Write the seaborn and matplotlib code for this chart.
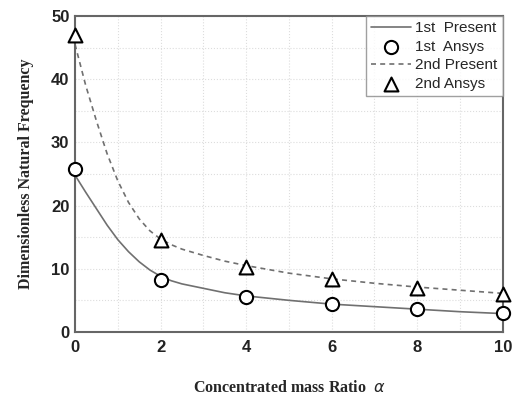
import numpy as np
import pandas as pd
import seaborn as sns
import matplotlib.pyplot as plt
from matplotlib.ticker import MultipleLocator

# curves
alpha_curve = [0, 0.25, 0.5, 0.75, 1, 1.25, 1.5, 1.75, 2, 2.25, 2.5, 3, 3.5, 4, 5, 6, 7, 8, 9, 10]
first_present = [24.8, 22.1, 19.5, 16.9, 14.6, 12.7, 11.1, 9.8, 8.8, 8.1, 7.6, 6.9, 6.2, 5.7, 5.0, 4.4, 4.0, 3.6, 3.2, 2.9]
second_present = [45.5, 39.0, 33.4, 28.2, 23.9, 20.5, 17.9, 16.0, 14.7, 13.8, 13.1, 12.1, 11.2, 10.5, 9.3, 8.4, 7.7, 7.1, 6.6, 6.1]

# ansys points
alpha_pts = [0, 2, 4, 6, 8, 10]
first_ansys = [25.8, 8.2, 5.6, 4.4, 3.6, 3.0]
second_ansys = [47.0, 14.6, 10.3, 8.4, 7.0, 6.0]

sns.set_style('white')

fig = plt.figure(figsize=(5.21, 3.98), dpi=100)
ax = fig.add_axes([0.144, 0.166, 0.821, 0.794])

c = pd.DataFrame({'a': alpha_curve, 'f1': first_present, 'f2': second_present})
p = pd.DataFrame({'a': alpha_pts, 'f1': first_ansys, 'f2': second_ansys})

sns.lineplot(data=c, x='a', y='f1', ax=ax, color='#707070', lw=1.2, label='1st  Present')
sns.scatterplot(data=p, x='a', y='f1', ax=ax, marker='o', s=90, facecolor='white',
                edgecolor='black', linewidth=1.5, label='1st  Ansys', zorder=5, clip_on=False)
sns.lineplot(data=c, x='a', y='f2', ax=ax, color='#707070', lw=1.2, linestyle=(0, (3, 2.5)),
             label='2nd Present')
sns.scatterplot(data=p, x='a', y='f2', ax=ax, marker='^', s=100, facecolor='white',
                edgecolor='black', linewidth=1.5, label='2nd Ansys', zorder=5, clip_on=False)

ax.set_xlim(0, 10)
ax.set_ylim(0, 50)
ax.xaxis.set_major_locator(MultipleLocator(2))
ax.xaxis.set_minor_locator(MultipleLocator(1))
ax.yaxis.set_major_locator(MultipleLocator(10))
ax.yaxis.set_minor_locator(MultipleLocator(5))
ax.grid(True, which='both', color='#dddddd', linestyle=':', lw=0.8)
ax.tick_params(which='both', direction='in', color='#555555')
ax.tick_params(which='major', length=5, width=1.2)
ax.tick_params(which='minor', length=3, width=1.0)
for lab in ax.get_xticklabels() + ax.get_yticklabels():
    lab.set_fontfamily('Liberation Sans')
    lab.set_fontweight('bold')
    lab.set_fontsize(12)
    lab.set_color('#222222')
ax.tick_params(axis='x', pad=6)
ax.tick_params(axis='y', pad=4)
for s in ax.spines.values():
    s.set_color('#666666')
    s.set_linewidth(1.5)

ax.set_xlabel(r'Concentrated mass Ratio  $\alpha$', fontfamily='Liberation Serif',
              fontweight='bold', fontsize=11.5, labelpad=18)
ax.set_ylabel('Dimensionless Natural Frequency', fontfamily='Liberation Serif',
              fontweight='bold', fontsize=11.5, labelpad=12)

leg = ax.legend(loc='upper right', prop={'family': 'Liberation Sans', 'size': 11},
                frameon=True, fancybox=False, borderaxespad=0, handlelength=2.6,
                handletextpad=0.3, labelspacing=0.3, borderpad=0.35)
leg.get_frame().set_edgecolor('#888888')
leg.get_frame().set_linewidth(1.0)

fig.savefig('out.png', dpi=100)
